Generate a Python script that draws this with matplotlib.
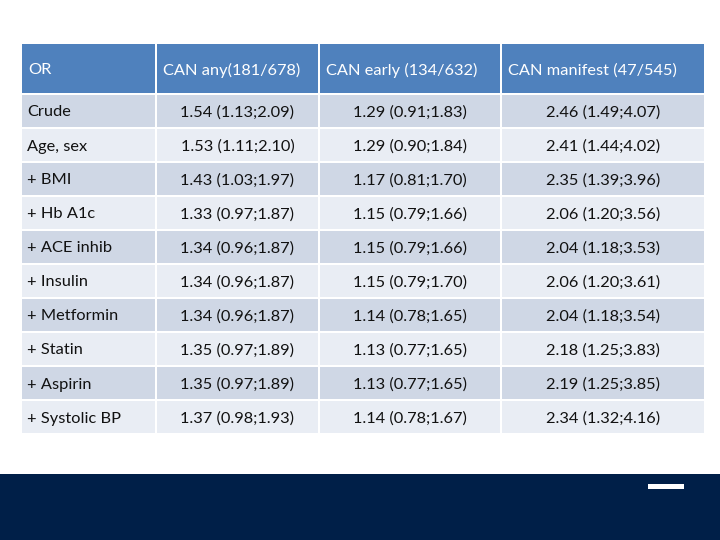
import matplotlib
matplotlib.use("Agg")
import matplotlib.pyplot as plt
from matplotlib.patches import Rectangle

headers = ["OR", "CAN any(181/678)", "CAN early (134/632)", "CAN manifest (47/545)"]
row_labels = ["Crude", "Age, sex", "+ BMI", "+ Hb A1c", "+ ACE inhib", "+ Insulin",
              "+ Metformin", "+ Statin", "+ Aspirin", "+ Systolic BP"]
can_any = ["1.54 (1.13;2.09)", "1.53 (1.11;2.10)", "1.43 (1.03;1.97)", "1.33 (0.97;1.87)",
           "1.34 (0.96;1.87)", "1.34 (0.96;1.87)", "1.34 (0.96;1.87)", "1.35 (0.97;1.89)",
           "1.35 (0.97;1.89)", "1.37 (0.98;1.93)"]
can_early = ["1.29 (0.91;1.83)", "1.29 (0.90;1.84)", "1.17 (0.81;1.70)", "1.15 (0.79;1.66)",
             "1.15 (0.79;1.66)", "1.15 (0.79;1.70)", "1.14 (0.78;1.65)", "1.13 (0.77;1.65)",
             "1.13 (0.77;1.65)", "1.14 (0.78;1.67)"]
can_manifest = ["2.46 (1.49;4.07)", "2.41 (1.44;4.02)", "2.35 (1.39;3.96)", "2.06 (1.20;3.56)",
                "2.04 (1.18;3.53)", "2.06 (1.20;3.61)", "2.04 (1.18;3.54)", "2.18 (1.25;3.83)",
                "2.19 (1.25;3.85)", "2.34 (1.32;4.16)"]

plt.rcParams['font.family'] = ['Lato', 'DejaVu Sans']

fig = plt.figure(figsize=(7.2, 5.4), dpi=100)
ax = fig.add_axes([0, 0, 1, 1])
ax.set_xlim(0, 720)
ax.set_ylim(540, 0)
ax.axis('off')

col_edges = [21, 156, 319, 501, 705]
header_top, header_bot = 44, 94
row_h = 34.0
gap = 2.0
header_col = "#4F81BD"
dark_row = "#CFD7E5"
light_row = "#E9EDF4"
fs = 11.8
dy = 1.5

# header
for j, h in enumerate(headers):
    x0, x1 = col_edges[j], col_edges[j + 1]
    ax.add_patch(Rectangle((x0 + gap / 2, header_top), x1 - x0 - gap, header_bot - header_top - gap / 2,
                           facecolor=header_col, edgecolor='none'))
    ax.text(x0 + 7, (header_top + header_bot) / 2 + dy, h, color='white', fontsize=fs,
            ha='left', va='center')

cols = [row_labels, can_any, can_early, can_manifest]
for i in range(len(row_labels)):
    y0 = header_bot + i * row_h
    fc = dark_row if i % 2 == 0 else light_row
    for j in range(4):
        x0, x1 = col_edges[j], col_edges[j + 1]
        ax.add_patch(Rectangle((x0 + gap / 2, y0 + gap / 2), x1 - x0 - gap, row_h - gap,
                               facecolor=fc, edgecolor='none'))
        yc = y0 + row_h / 2 + dy
        if j == 0:
            ax.text(x0 + 6, yc, cols[j][i], color='#111111', fontsize=fs, ha='left', va='center')
        else:
            ax.text((x0 + x1) / 2, yc, cols[j][i], color='#111111', fontsize=fs, ha='center', va='center')

# bottom band
ax.add_patch(Rectangle((0, 474), 720, 66, facecolor="#001F48", edgecolor='none'))
ax.add_patch(Rectangle((648, 484), 36, 5, facecolor="white", edgecolor='none'))

fig.savefig("out.png", dpi=100)
